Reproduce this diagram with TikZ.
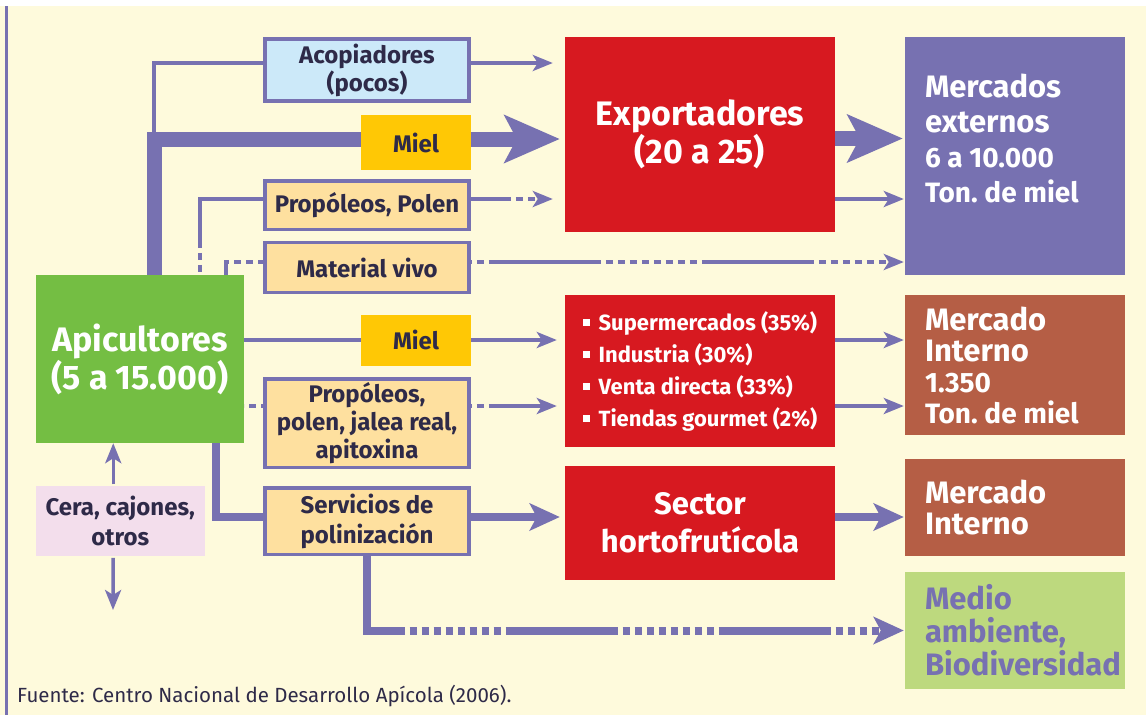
\documentclass[tikz,border=0pt]{standalone}
\usepackage{fontspec}
\setmainfont{Fira Sans}
\usepackage{tikz}
\usetikzlibrary{arrows.meta,positioning}
\definecolor{fondo}{HTML}{FEFADC}
\definecolor{lila}{HTML}{7771B1}
\definecolor{celeste}{HTML}{CCE9F9}
\definecolor{crema}{HTML}{FEE09F}
\definecolor{amarillo}{HTML}{FFC805}
\definecolor{rojo}{HTML}{D71920}
\definecolor{verde}{HTML}{74BE43}
\definecolor{rosa}{HTML}{F3DEEC}
\definecolor{cafe}{HTML}{B55E45}
\definecolor{verdeclaro}{HTML}{BDD97E}
\definecolor{tinta}{HTML}{2E2A48}
\newcommand{\tam}[2]{\fontsize{#1}{#2}\selectfont}
\newcommand{\vineta}{\rule[4pt]{7pt}{7pt}\hspace{9pt}}
\tikzset{
  caja/.style={rectangle, draw=lila, line width=3.5pt, fill=crema, minimum width=204pt,
    align=center, text=tinta, inner sep=0pt, font=\tam{24}{28}\bfseries},
  miel/.style={rectangle, fill=amarillo, minimum width=110pt, text=tinta, font=\tam{24}{28}\bfseries},
  roja/.style={rectangle, fill=rojo, minimum width=270pt, text=white, align=center, font=\tam{34}{38}\bfseries},
  destino/.style={rectangle, minimum width=220pt, text width=180pt, inner xsep=20pt, inner ysep=0pt,
    text=white, align=flush left, font=\tam{31}{33}\bfseries},
  linea/.style={draw=lila, line width=3.5pt},
  media/.style={draw=lila, line width=8pt},
  gruesa/.style={draw=lila, line width=15pt},
  flecha/.style={-{Stealth[length=20pt,width=16pt,inset=5pt]}},
  flechamedia/.style={-{Stealth[length=30pt,width=27pt,inset=7pt]}},
  flechagrande/.style={-{Stealth[length=55pt,width=47pt,inset=12pt]}},
  mixta/.style={dash pattern=on 112pt off 5pt on 7pt off 5pt on 7pt off 5pt on 7pt off 5pt
    on 7pt off 5pt on 7pt off 5pt on 7pt off 5pt on 7pt off 5pt on 7pt off 5pt}
}
\begin{document}
\begin{tikzpicture}[x=1pt, y=-1pt]
\useasboundingbox (0,0) rectangle (1146,715);
\fill[white] (0,0) rectangle (1146,6);
\fill[fondo] (0,6) rectangle (1146,715);
\draw[lila, line width=3pt] (6.5,6) -- (6.5,715);

\node[caja, fill=celeste, minimum height=62pt] (acop) at (367,70) {Acopiadores\\(pocos)};
\node[miel, minimum height=55pt] (miel1) at (416,142.5) {Miel};
\node[caja, minimum height=48.5pt] (ppol) at (367,205) {Propóleos, Polen};
\node[caja, minimum height=50pt] (mviv) at (367,267.5) {Material vivo};
\node[roja, minimum height=195pt, font=\tam{34}{34}\bfseries] (expo) at (700,134.5) {Exportadores\\(20 a 25)};
\node[destino, fill=lila, minimum height=238pt, font=\tam{31}{35}\bfseries] (mext) at (1015,156)
  {Mercados\\externos\\{\tam{28}{35}6 a 10.000}\\{\tam{28}{35}Ton.\ de miel}\\ \mbox{}};
\node[roja, fill=verde, minimum width=208pt, minimum height=168pt] (apic) at (140,359) {Apicultores\\(5 a 15.000)};
\node[miel, minimum height=51pt] (miel2) at (416,340) {Miel};
\node[caja, minimum height=88.5pt] (ppjal) at (367,423) {Propóleos,\\polen, jalea real,\\apitoxina};
\node[caja, fill=rosa, draw=none, minimum width=168.5pt, minimum height=70pt, font=\tam{24}{30}\bfseries] (cera) at (120.25,521) {Cera, cajones,\\otros};
\node[caja, minimum height=66.5pt, font=\tam{24}{30}\bfseries] (serv) at (367,521) {Servicios de\\polinización};
\node[roja, minimum height=152pt, align=left, font=\tam{22}{32}\bfseries] (lista) at (700,371)
  {\vineta Supermercados (35\%)\\\vineta Industria (30\%)\\\vineta Venta directa (33\%)\\\vineta Tiendas gourmet (2\%)};
\node[roja, minimum height=114pt, font=\tam{31}{38}\bfseries] (sect) at (700,523) {Sector\\hortofrutícola};
\node[destino, fill=cafe, minimum height=140pt, font=\tam{31}{31}\bfseries] (mint1) at (1015,365)
  {Mercado\\Interno\\{\tam{28}{31}1.350}\\{\tam{28}{31}Ton.\ de miel}};
\node[destino, fill=cafe, minimum height=97pt, font=\tam{31}{31}\bfseries] (mint2) at (1015,507.5) {Mercado\\Interno};
\node[destino, fill=verdeclaro, text=lila, minimum height=117pt] (medio) at (1015,630.5) {Medio\\ambiente,\\Biodiversidad};
\node[anchor=base west, inner sep=0pt, text=tinta, font=\tam{20.5}{24}] (fuente) at (17,702)
  {Fuente: Centro Nacional de Desarrollo Apícola (2006).};

\coordinate (c1) at (154,139);
\coordinate (c2) at (200,199);
\coordinate (c3) at (226,262);
\coordinate (c4) at (216,517);
\coordinate (c5) at (113,610);

\draw[gruesa] (apic.north -| c1) -- (c1) -- ([yshift=3.5pt]miel1.west);
\draw[gruesa, flechagrande, shorten >=5pt] ([yshift=3.5pt]miel1.east) -- ([yshift=3.5pt]miel1.east -| expo.west);
\draw[linea] ([yshift=7pt]acop.west) -| (c1);
\draw[linea, flecha, shorten >=12pt] ([yshift=7pt]acop.east) -- ([yshift=7pt]acop.east -| expo.west);
\draw[linea, mixta] ([yshift=6pt]ppol.west) -| (apic.north -| c2);
\draw[linea, mixta, dash phase=72pt, flecha, shorten >=12pt] ([yshift=6pt]ppol.east) -- ([yshift=6pt]ppol.east -| expo.west);
\draw[linea, mixta, dash phase=96pt] (apic.north -| c3) |- ([yshift=5.5pt]mviv.west);
\draw[linea, mixta, dash phase=195pt, flecha, shorten >=1pt] ([yshift=5.5pt]mviv.east) -- ([yshift=5.5pt]mviv.east -| mext.west);
\draw[gruesa, flechagrande, shorten >=2pt] ([yshift=-4pt]expo.east) -- ([yshift=-4pt]expo.east -| mext.west);
\draw[linea, flecha, shorten >=1pt] ([yshift=-64.5pt]expo.east) -- ([yshift=-64.5pt]expo.east -| mext.west);

\draw[linea] ([yshift=19pt]apic.east) -- (miel2.west);
\draw[linea, flecha, shorten >=8pt] (miel2.east) -- (miel2.east -| lista.west);
\draw[linea, mixta, dash phase=124pt] ([yshift=-47pt]apic.east) -- ([yshift=-47pt]apic.east -| ppjal.west);
\draw[linea, mixta, dash phase=195pt, flecha, shorten >=8pt] ([yshift=-47pt]apic.east -| ppjal.east) -- ([yshift=-47pt]apic.east -| lista.west);
\draw[linea, flecha, shorten >=1pt] ([yshift=31pt]lista.east) -- ([yshift=31pt]lista.east -| mint1.west);
\draw[linea, flecha, shorten >=1pt] ([yshift=-35pt]lista.east) -- ([yshift=-35pt]lista.east -| mint1.west);

\draw[media] (apic.south -| c4) |- ([yshift=4pt]serv.west);
\draw[media, flechamedia, shorten >=5pt] ([yshift=4pt]serv.east) -- ([yshift=4pt]serv.east -| sect.west);
\draw[media, flechamedia, shorten >=1pt] ([yshift=6pt]sect.east) -- ([yshift=6pt]sect.east -| mint2.west);
\draw[media, mixta, flechamedia, shorten >=1pt] (serv.south) |- (medio.west);

\draw[linea, flecha] ([xshift=-7pt]cera.north) -- ([xshift=-7pt]cera.north |- apic.south);
\draw[linea, flecha] ([xshift=-7pt]cera.south) -- (c5);
\end{tikzpicture}
\end{document}
